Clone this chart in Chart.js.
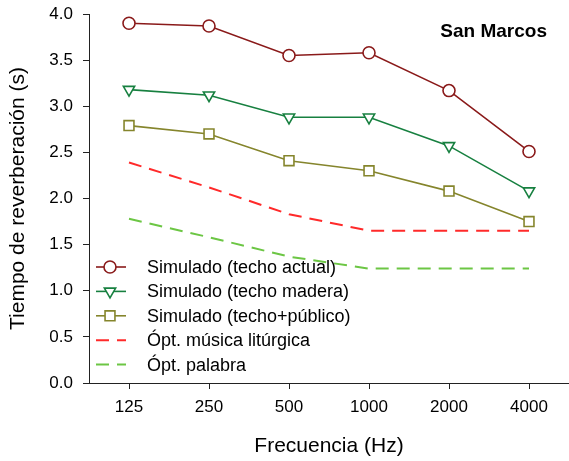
<!DOCTYPE html>
<html>
<head>
<meta charset="utf-8">
<script src="https://cdn.jsdelivr.net/npm/chart.js@4/dist/chart.umd.min.js"></script>
<style>
  html, body { margin: 0; padding: 0; background: #fff; }
  #wrap { width: 569px; height: 461px; position: relative; }
</style>
</head>
<body>
<div id="wrap"><canvas id="rtChart"></canvas></div>
<script>
// frequency bands and reverberation times (s)
const freqLabels = ["125", "250", "500", "1000", "2000", "4000"];
const techoActual = [3.90, 3.87, 3.55, 3.58, 3.17, 2.51];
const techoMadera = [3.18, 3.12, 2.88, 2.88, 2.57, 2.08];
const techoPublico = [2.79, 2.70, 2.41, 2.30, 2.08, 1.75];
const optMusica = [2.39, 2.12, 1.83, 1.65, 1.65, 1.65];
const optPalabra = [1.78, 1.58, 1.37, 1.24, 1.24, 1.24];
const yMin = 0, yMax = 4, yStep = 0.5;

const FONT = "'Liberation Sans', Arial, sans-serif";

/* legend drawn inside the plot, lower left */
const insideLegend = {
    id: "insideLegend",
    afterDraw(chart) {
        const ctx = chart.ctx;
        const x0 = 96, x1 = 126, xm = 110, xt = 147;
        let y = 267;
        ctx.save();
        chart.data.datasets.forEach(ds => {
            ctx.strokeStyle = ds.borderColor;
            ctx.lineWidth = ds.borderWidth;
            ctx.setLineDash(ds.borderDash || []);
            ctx.beginPath();
            ctx.moveTo(x0, y);
            ctx.lineTo(x1, y);
            ctx.stroke();
            ctx.setLineDash([]);
            if (ds.pointRadius > 0) {
                ctx.fillStyle = "#fff";
                ctx.strokeStyle = ds.borderColor;
                ctx.lineWidth = ds.pointBorderWidth;
                Chart.helpers.drawPoint(ctx, {
                    pointStyle: ds.pointStyle,
                    rotation: ds.pointRotation || 0,
                    radius: ds.pointRadius,
                    borderWidth: ds.pointBorderWidth
                }, xm, y);
            }
            ctx.fillStyle = "#000";
            ctx.font = "18px " + FONT;
            ctx.textBaseline = "middle";
            ctx.textAlign = "left";
            ctx.fillText(ds.label, xt, y + 1);
            y += 24.4;
        });
        ctx.restore();
    }
};

/* "San Marcos" label top right */
const placeLabel = {
    id: "placeLabel",
    afterDraw(chart) {
        const ctx = chart.ctx;
        ctx.save();
        ctx.fillStyle = "#000";
        ctx.font = "bold 19px " + FONT;
        ctx.textAlign = "right";
        ctx.textBaseline = "alphabetic";
        ctx.fillText("San Marcos", 547, 37);
        ctx.restore();
    }
};

function simSet(label, data, color, style, rot, radius) {
    return {
        label: label,
        data: data,
        borderColor: color,
        backgroundColor: "#fff",
        borderWidth: 1.6,
        pointStyle: style,
        pointRotation: rot,
        pointRadius: radius,
        pointBorderWidth: 1.6,
        pointBackgroundColor: "#fff",
        pointBorderColor: color,
        tension: 0,
        order: 1
    };
}

function optSet(label, data, color) {
    return {
        label: label,
        data: data,
        borderColor: color,
        borderWidth: 2,
        borderDash: [13, 8],
        pointRadius: 0,
        tension: 0,
        order: 2
    };
}

new Chart(document.getElementById("rtChart").getContext("2d"), {
    type: "line",
    data: {
        labels: freqLabels,
        datasets: [
            simSet("Simulado (techo actual)", techoActual, "#8a1a1a", "circle", 0, 6),
            simSet("Simulado (techo madera)", techoMadera, "#178040", "triangle", 180, 6.5),
            simSet("Simulado (techo+público)", techoPublico, "#85852c", "rect", 0, 7),
            optSet("Ópt. música litúrgica", optMusica, "#ff2a2a"),
            optSet("Ópt. palabra", optPalabra, "#6cc644")
        ]
    },
    options: {
        responsive: true,
        maintainAspectRatio: false,
        animation: false,
        layout: { autoPadding: false, padding: { top: 14, right: 0, left: 0, bottom: 0 } },
        plugins: {
            legend: { display: false },
            tooltip: { enabled: false }
        },
        scales: {
            x: {
                type: "category",
                offset: true,
                afterFit(scale) {
                    scale.height = 78;
                    scale.paddingLeft = 0;
                    scale.paddingRight = 0;
                },
                grid: { drawOnChartArea: false, drawTicks: true, tickLength: 6, offset: false, color: "#222" },
                border: { display: true, color: "#222", width: 1 },
                ticks: { color: "#000", font: { family: FONT, size: 17 }, padding: 8, maxRotation: 0 },
                title: { display: true, text: "Frecuencia (Hz)", color: "#000", font: { family: FONT, size: 21 }, padding: { top: 0, bottom: 2 } }
            },
            y: {
                min: yMin,
                max: yMax,
                afterFit(scale) {
                    scale.width = 89;
                    scale.paddingTop = 0;
                    scale.paddingBottom = 0;
                },
                grid: { drawOnChartArea: false, drawTicks: true, tickLength: 6, color: "#222" },
                border: { display: true, color: "#222", width: 1 },
                ticks: {
                    stepSize: yStep,
                    color: "#000",
                    font: { family: FONT, size: 17 },
                    padding: 10,
                    callback: v => v.toFixed(1)
                },
                title: { display: true, text: "Tiempo de reverberación (s)", color: "#000", font: { family: FONT, size: 21 }, padding: { top: 6, bottom: 0 } }
            }
        }
    },
    plugins: [insideLegend, placeLabel]
});
</script>
</body>
</html>
